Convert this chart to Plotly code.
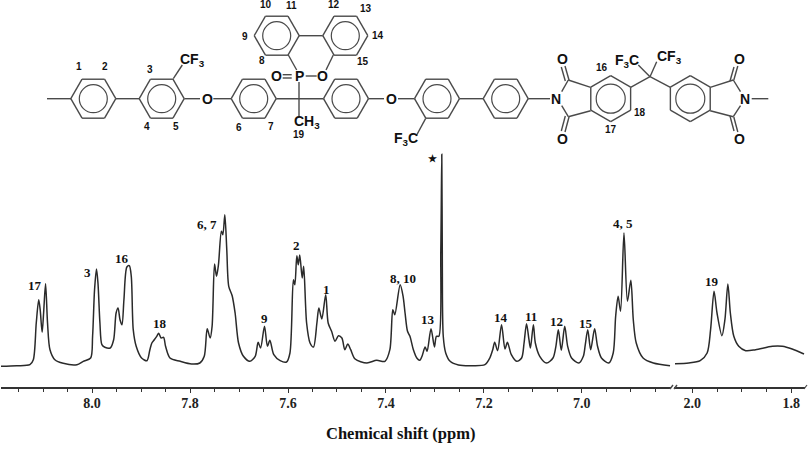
import math
import plotly.graph_objects as go

# ---- Spectrum data: chemical shift (ppm) and intensity (arbitrary units) ----
ppm_aromatic = [
8.188,8.154,8.127,8.120,8.114,8.109,8.106,8.102,8.099,8.095,8.091,8.086,8.076,8.059,8.031,8.018,8.003,7.999,7.995,7.991,
7.988,7.984,7.980,7.974,7.963,7.956,7.951,7.947,7.943,7.939,7.935,7.929,7.924,7.920,7.916,7.910,7.899,7.888,7.882,7.878,
7.873,7.868,7.864,7.859,7.854,7.850,7.841,7.820,7.797,7.780,7.771,7.765,7.759,7.755,7.750,7.746,7.742,7.736,7.733,7.729,
7.725,7.721,7.714,7.708,7.701,7.691,7.678,7.667,7.661,7.656,7.648,7.642,7.637,7.629,7.616,7.603,7.596,7.589,7.586,7.582,
7.579,7.576,7.571,7.568,7.562,7.555,7.548,7.541,7.537,7.531,7.523,7.518,7.511,7.504,7.497,7.490,7.484,7.478,7.472,7.463,
7.439,7.419,7.402,7.392,7.386,7.382,7.371,7.365,7.361,
7.356,7.351,7.344,7.337,7.331,7.326,7.320,7.316,7.308,7.301,7.297,7.292,7.288,7.286,7.285,7.283,7.278,7.269,7.252,7.225,
7.198,7.188,7.182,7.178,7.172,7.164,7.157,7.152,7.144,7.133,7.123,7.118,7.113,7.108,7.105,7.099,7.095,7.086,7.072,7.059,
7.053,7.048,7.042,7.035,7.029,7.021,7.006,6.997,6.993,6.988,6.982,6.974,6.968,6.960,6.945,6.936,6.931,6.926,6.921,6.914,
6.907,6.900,6.895,6.889,6.875,6.854,6.820]
int_aromatic = [
20.7,21.3,22.3,27.3,64,87.3,77.3,54.7,74,103.3,64,37.3,27.3,23.7,22.3,25.7,29,50.7,97.3,118,
104,64,42.3,39.7,39,47.3,74,79,67.3,62.3,87.3,120,121.3,110.7,57.3,40.7,29,26.3,37.3,44,
47.3,50.7,53.7,49,49.7,40.7,29,25.7,23,24,30.7,58.3,49,60.7,123,110.7,122.3,155.7,152.3,172.3,
137.3,100.7,91.3,74,44,30.7,25.7,30.7,44.7,39,60.7,40.7,46.7,32.3,26.3,25,34,107.3,102.3,131.3,
122.3,132,109,120.7,64,44,40,64,79,68,92.3,64,55.7,45.7,51.3,49,37.3,43,37.3,28,
24,26.7,25.7,37.3,77.3,72.3,102.3,90.7,74,
55.7,50.7,37.3,29,26.7,31.3,40,35.7,58.3,40,50.7,50.7,137.3,232.7,137.3,50.7,34,25.7,22,21.3,
22.3,29,37.3,44.7,36.3,62.3,38,44.7,32.3,25.7,29,44,63.3,47.3,39,62.3,44,30.7,24,29,
40.7,57.3,36.7,60.7,40.7,29,24,30.7,42.3,57.3,37.3,58.3,40.7,29,24,34,70.7,90.7,75.7,154,
85.7,106.7,67.3,44,29,24,21.3]
ppm_methyl = [2.035,2.007,1.984,1.970,1.963,1.956,1.950,1.940,1.934,1.928,1.923,1.916,1.906,1.892,1.872,1.838,1.818,1.798,1.774]
int_methyl = [23.3,24,26.3,34,57.3,95.7,74,51.3,67.3,103,74,50.7,40.7,36.3,37.3,40.7,40.7,38,33]

axis_title = "Chemical shift (ppm)"
peak_labels = ["17","3","16","18","6, 7","9","2","1","8, 10","13","14","11","12","15","4, 5","19","★"]
atom_numbers = [str(i) for i in range(1, 20)]

# ---- Layout (pixels on the 810x454 page) ----
W, H = 810, 454
INK = "#2a2a2a"
BOND = "#4a4a4a"
SERIF = "Liberation Serif"
SANS = "Liberation Sans"

peak_pos = [(35,285),(87,272),(122,258),(160,323),(207,224),(264,318),(296,245),(326,289),(403,278),
            (428,319),(501,317),(531,316),(556,321),(586,323),(623,223),(712,281),(432,158)]
num_pos = [(79,66),(105,66),(150.3,69.3),(147,126.7),(175.7,126.7),(239,127.7),(271,126.7),(261.7,60.7),
           (245,36.7),(265.7,4.7),(291,5.7),(334,4.7),(365.7,8.3),(378.3,35),(362.7,61.7),(602,67.7),
           (610.7,129.3),(639.7,112.3),(299,134)]

fig = go.Figure()
SM = 0.8
fig.add_trace(go.Scatter(x=ppm_aromatic, y=int_aromatic, mode="lines", xaxis="x", yaxis="y",
                         line=dict(color=INK, width=1.5, shape="spline", smoothing=SM), hoverinfo="skip"))
fig.add_trace(go.Scatter(x=ppm_methyl, y=int_methyl, mode="lines", xaxis="x2", yaxis="y",
                         line=dict(color=INK, width=1.5, shape="spline", smoothing=SM), hoverinfo="skip"))

shapes, annos = [], []

def bond(x0, y0, x1, y1, w=1.4):
    shapes.append(dict(type="line", xref="x3", yref="y3", x0=x0, y0=y0, x1=x1, y1=y1,
                       line=dict(color=BOND, width=w)))

def ring(cx, cy, r=22.5, rin=14, pointy=False):
    off = 30 if pointy else 0
    pts = [(cx + r*math.cos(math.radians(off + 60*i)), cy + r*math.sin(math.radians(off + 60*i))) for i in range(6)]
    for i in range(6):
        bond(*pts[i], *pts[(i+1) % 6])
    shapes.append(dict(type="circle", xref="x3", yref="y3", x0=cx-rin, x1=cx+rin, y0=cy-rin, y1=cy+rin,
                       line=dict(color=BOND, width=1.2)))

def txt(x, y, s, size, family=SANS, color="#111", bold=False):
    annos.append(dict(xref="x3", yref="y3", x=x, y=y, text=f"<b>{s}</b>" if bold else s, showarrow=False,
                      font=dict(family=family, size=size, color=color), xanchor="center", yanchor="middle"))

Y0 = 98.7
for cx in (93.3, 161.7, 253.7, 346, 437, 505.7):
    ring(cx, Y0)
ring(276.7, 35.7); ring(345.3, 35.7)
ring(610.7, Y0, r=23, rin=14.5, pointy=True); ring(690.3, Y0, r=23, rin=14.5, pointy=True)

for b in [(47,Y0,71,Y0),(116,Y0,139.3,Y0),(173.3,78.7,182.3,65),(184.3,Y0,200,Y0),(213.3,Y0,231,Y0),
          (276.2,Y0,323.5,Y0),(299,82,299,116),(282.7,74.7,291.7,74.7),(282.7,78,291.7,78),(305.7,76,316.7,76),
          (326,70,333.3,55),(288.3,55,296.7,70),(299,35.7,322.8,35.7),(368.5,Y0,384,Y0),(398,Y0,414.5,Y0),
          (459.5,Y0,483.2,Y0),(425.7,118.3,416.7,135),(528.2,Y0,550,Y0),
          (561.7,91.7,568.3,80),(568.3,80,590.7,87.3),(561.7,105.7,568.3,116.7),(568.3,116.7,590.7,110.7),
          (569,80,565,66),(565.3,81,561.3,67),(569,117,565,132),(565.3,116,561.3,131),
          (630.6,87.3,650,76.7),(650,76.7,670.4,87.3),(650,76.7,638.3,65),(650,76.7,656.7,61.7),
          (710.2,87.3,733.3,80),(733.3,80,740.5,91.7),(710.2,110.7,733.3,116.7),(733.3,116.7,740.5,105.7),
          (733.8,80,737.8,66),(730,81,734,67),(733.8,117,737.8,132),(730,116,734,131),(751.7,Y0,768.3,Y0)]:
    bond(*b)

for x, y, s in [(192,60,"CF<sub>3</sub>"),(207.7,Y0,"O"),(276.7,76,"O"),(299,76,"P"),(322,76,"O"),
                (307,122,"CH<sub>3</sub>"),(391.7,Y0,"O"),(406,139,"F<sub>3</sub>C"),(556,Y0,"N"),
                (562.3,59.3,"O"),(562.3,139.3,"O"),(626.7,60.7,"F<sub>3</sub>C"),(669,57.3,"CF<sub>3</sub>"),
                (739,59.3,"O"),(739,139.3,"O"),(745,Y0,"N")]:
    txt(x, y, s, 14, bold=True)
for (x, y), s in zip(num_pos, atom_numbers):
    txt(x, y, s, 10, bold=True)
for (x, y), s in zip(peak_pos, peak_labels):
    txt(x, y, s, 13 if s != "★" else 10, family=SERIF, bold=True)
txt(400, 433, axis_title, 16.5, family=SERIF, bold=True)

# axis-break slashes
bond(670, 389, 673, 385, 1.4); bond(674, 389, 677, 385, 1.4); bond(804, 389, 807, 385, 1.2)

common = dict(showgrid=False, zeroline=False, showline=True, linecolor="#333", linewidth=2,
              ticks="outside", ticklen=4, tickwidth=1.2, tickcolor="#333", tick0=2, dtick=0.2, tickformat=".1f",
              ticklabelstandoff=-2,
              tickfont=dict(family=SERIF, size=14, color="#222", weight="bold"),
              minor=dict(dtick=0.05, tick0=2, ticks="outside", ticklen=2.5, tickwidth=1, tickcolor="#333"))

fig.update_layout(
    width=W, height=H, margin=dict(l=0, r=0, t=0, b=0), paper_bgcolor="white", plot_bgcolor="rgba(0,0,0,0)",
    showlegend=False, shapes=shapes, annotations=annos,
    xaxis=dict(domain=[1/W, 671/W], range=[8.186, 6.818], anchor="y", **common),
    xaxis2=dict(domain=[674/W, 805/W], range=[2.037, 1.772], anchor="y", **common),
    yaxis=dict(domain=[(H-387)/H, (H-150)/H], range=[0, 237], visible=False),
    xaxis3=dict(domain=[0, 1], range=[0, W], visible=False, anchor="y3"),
    yaxis3=dict(domain=[0, 1], range=[H, 0], visible=False, anchor="x3"),
)
fig.add_trace(go.Scatter(x=[None], y=[None], xaxis="x3", yaxis="y3", hoverinfo="skip"))
fig.write_html("out.html", config=dict(displayModeBar=False),
               post_script="document.body.style.margin='0';")
